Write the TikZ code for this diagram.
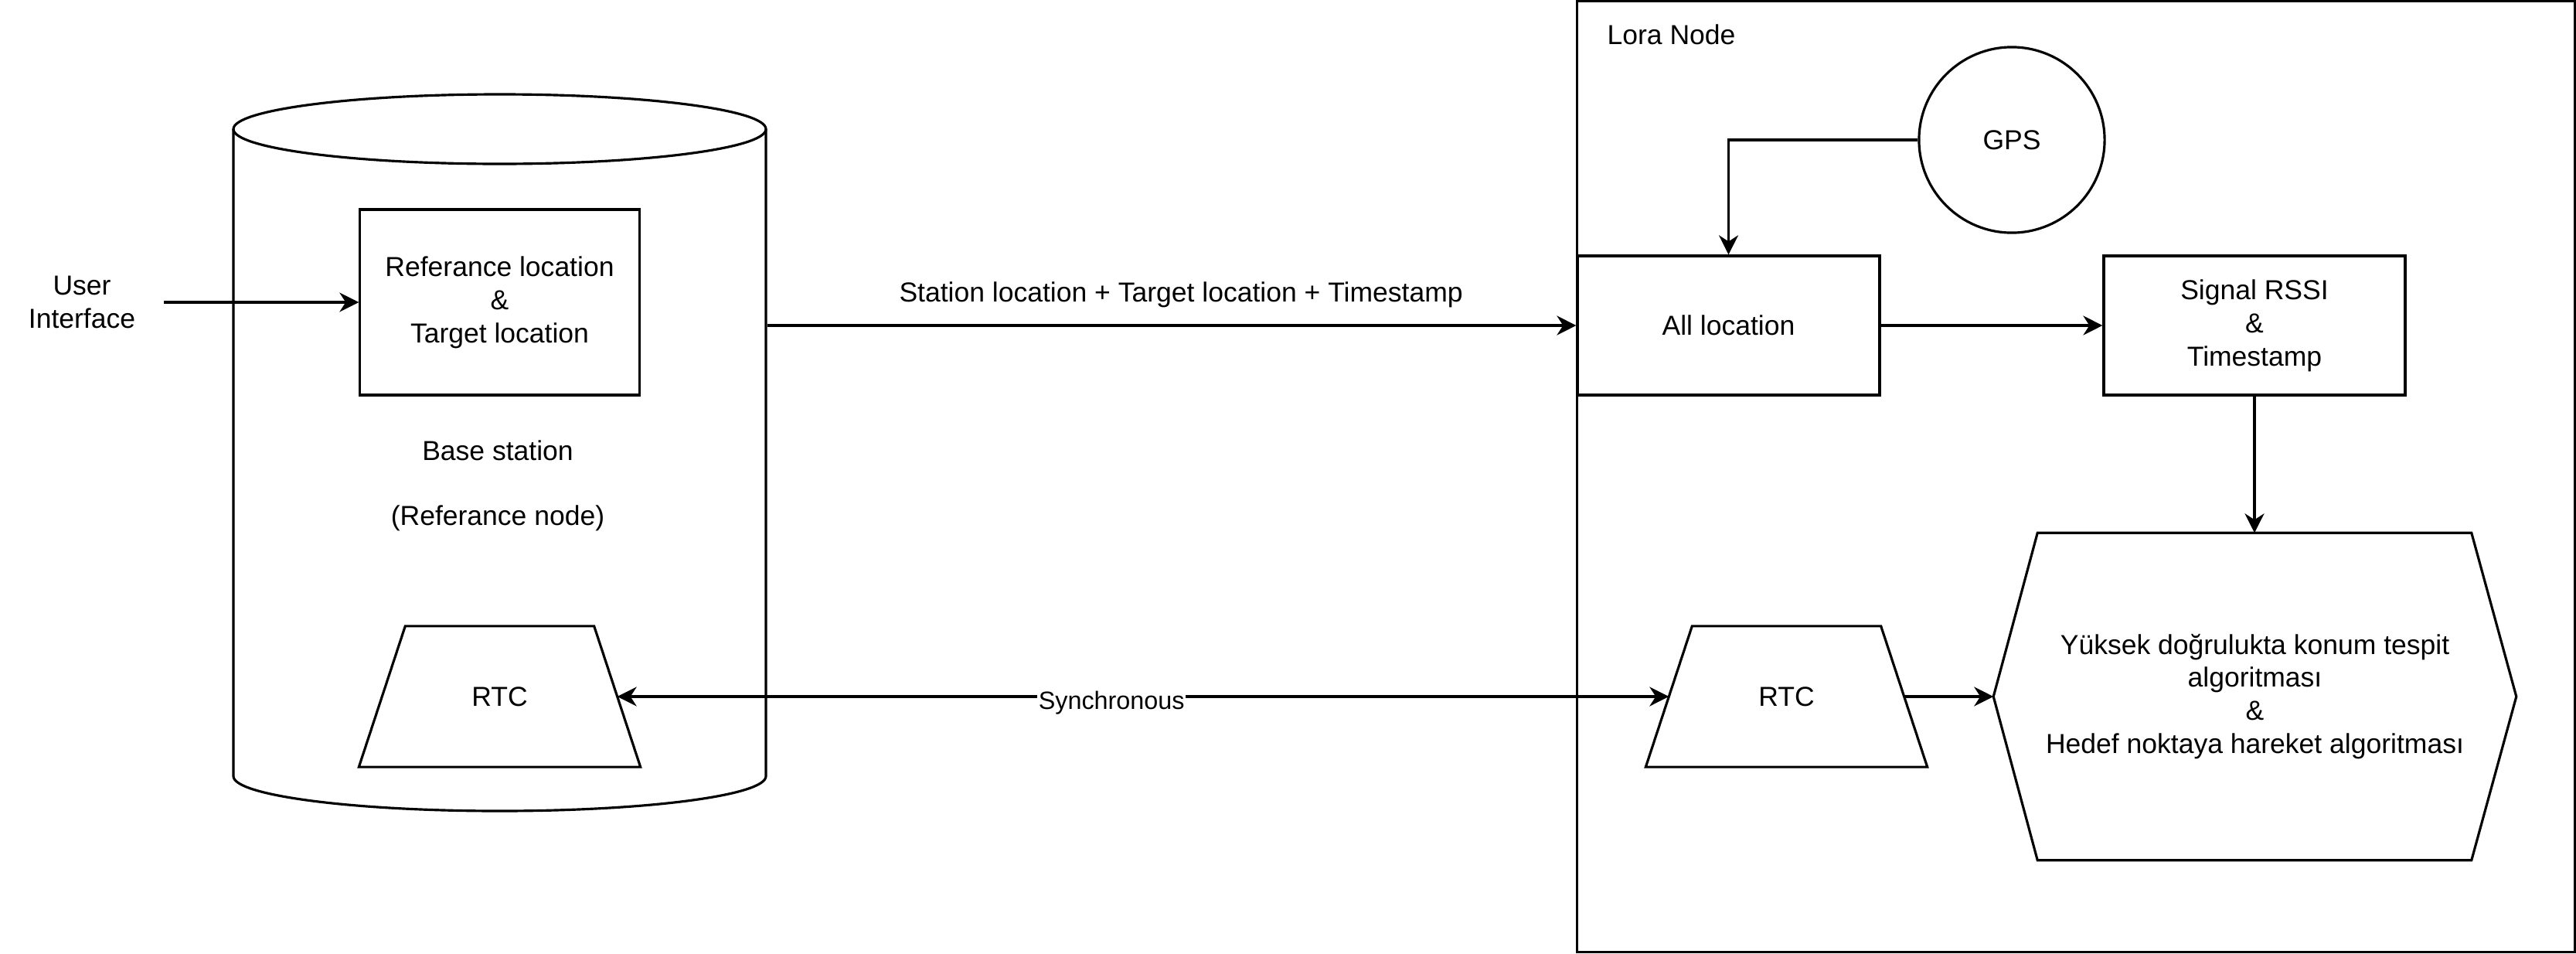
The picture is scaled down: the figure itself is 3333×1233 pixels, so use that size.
\documentclass[tikz,border=0pt]{standalone}
\usepackage{fontspec}
\setmainfont{Liberation Sans}
\usetikzlibrary{shapes.geometric,arrows.meta,calc}
\begin{document}
\begin{tikzpicture}[x=0.01cm,y=-0.01cm,
  line width=0.9pt,
  every node/.style={font=\fontsize{10.1}{12.2}\selectfont, inner sep=0pt, align=center},
  box/.style={draw, rectangle, minimum width=#1*0.01cm, minimum height=1.8cm},
  trapframe/.style={rectangle, minimum width=3.61cm, minimum height=1.79cm},
  arr/.style={-{Stealth[length=0.25cm,width=0.25cm,inset=0.08cm]}},
  darr/.style={{Stealth[length=0.25cm,width=0.25cm,inset=0.08cm]}-{Stealth[length=0.25cm,width=0.25cm,inset=0.08cm]}},
  lbl/.style={font=\fontsize{9.2}{11}\selectfont}
]
\useasboundingbox (0,0) rectangle (3333,1233);

% Base station cylinder
\node[minimum width=6.89cm, minimum height=9.27cm] (base) at (646.5,584.5) {};
\draw[fill=white] (302,167) -- (302,1004) arc[start angle=180,end angle=360,x radius=344.5,y radius=-45]
  -- (991,167);
\draw (646.5,167) ellipse[x radius=344.5, y radius=45];

% Lora node container
\node[draw, rectangle, minimum width=12.9cm, minimum height=12.29cm] (lora) at (2686,616.5) {};
\node[anchor=west] (loralbl) at (2078,45) {Lora Node};

% Left side
\node (ui) at (106,391) {User\\Interface};
\node[draw, rectangle, minimum width=3.61cm, minimum height=2.4cm] (ref) at (646.5,391)
  {Referance location\\\&\\Target location};
\node (bs) at (644,583) {Base station};
\node (rn) at (644,670) {(Referance node)};
\node[trapframe] (rtc1) at (646.5,901) {RTC};

% Right side
\node[draw, circle, minimum size=2.4cm] (gps) at (2603,181) {GPS};
\node[box=391] (all) at (2236.5,421) {All location};
\node[box=390] (sig) at (2917,421) {Signal RSSI\\\&\\Timestamp};
\node[trapframe] (rtc2) at (2311.5,901) {RTC};
\node[minimum width=6.73cm, minimum height=4.2cm] (hex) at (2917.5,901)
  {Yüksek doğrulukta konum tespit\\algoritması\\\&\\Hedef noktaya hareket algoritması};

% outlines of trapezia and hexagon
\foreach \t in {rtc1,rtc2}{
  \draw (\t.south west) -- ($(\t.north west)+(60,0)$) -- ($(\t.north east)+(-60,0)$)
    -- (\t.south east) -- cycle;
}
\draw (hex.west) -- ($(hex.north west)+(57,0)$) -- ($(hex.north east)+(-58,0)$) -- (hex.east)
  -- ($(hex.south east)+(-58,0)$) -- ($(hex.south west)+(57,0)$) -- cycle;

% side midpoints of the trapezia
\coordinate (r1e) at ($(rtc1.east)+(-30,0)$);
\coordinate (r2w) at ($(rtc2.west)+(30,0)$);
\coordinate (r2e) at ($(rtc2.east)+(-30,0)$);
\coordinate (uiend) at (212,391);

% Connectors
\draw[arr] (uiend) -- (ref.west);
\draw[arr] (base.east |- all.west) -- node[above=0.22cm, xshift=0.12cm] (toplbl)
  {Station location + Target location + Timestamp} (all.west);
\draw[arr] (gps.west) -| (all.north);
\draw[arr] (all.east) -- (sig.west);
\draw[arr] (sig.south) -- (sig.south |- hex.north);
\draw[darr] (r1e) -- node[pos=0.47, yshift=-0.08cm, fill=white, lbl, inner sep=0.5pt] (sync) {Synchronous} (r2w);
\draw[arr] (r2e) -- (hex.west);
\end{tikzpicture}
\end{document}
